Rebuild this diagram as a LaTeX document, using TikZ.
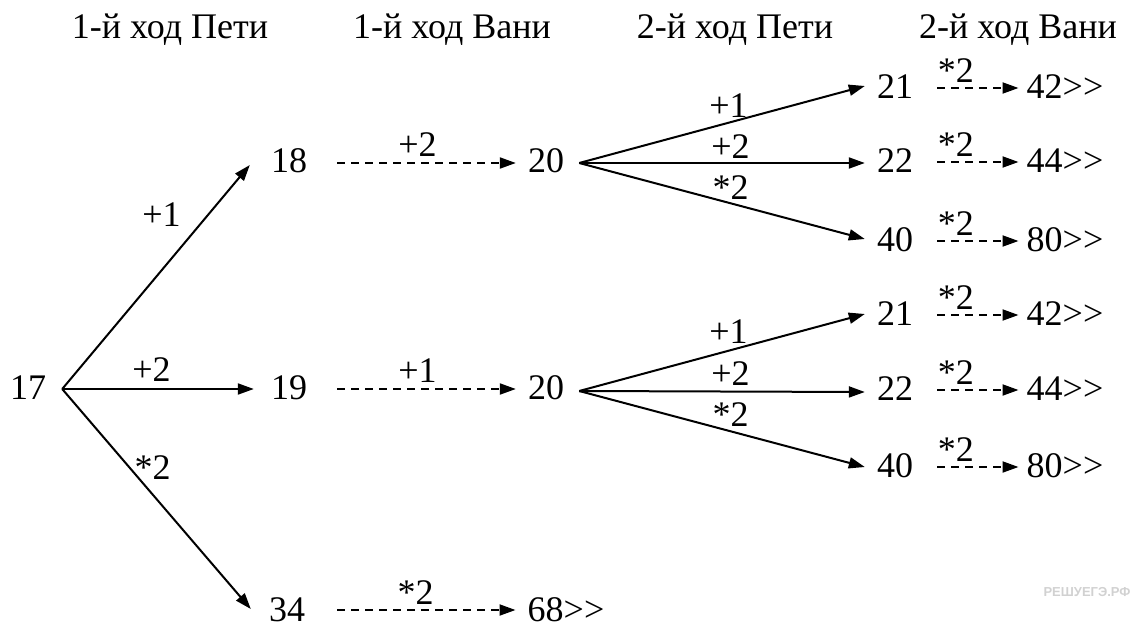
\documentclass[tikz,border=0pt]{standalone}
\usepackage{fontspec}
\setmainfont{Liberation Serif}
\newfontfamily\wmfont{Liberation Sans}
\usetikzlibrary{arrows.meta}
\newcommand\gtgt{>\kern0pt>}
\tikzset{
  num/.style={inner sep=0pt, font=\fontsize{36}{40}\selectfont},
  hdr/.style={inner sep=0pt, anchor=base, font=\fontsize{36}{40}\selectfont},
  lbl/.style={inner sep=0pt, font=\fontsize{36}{40}\selectfont},
  solidarrow/.style={line width=2pt, -{Triangle[length=16pt,width=11pt]}},
  dasharrow/.style={line width=2pt, dash pattern=on 8pt off 6pt, -{Triangle[length=16pt,width=11pt]}},
}
\begin{document}
\begin{tikzpicture}[x=1pt,y=-1pt]
\useasboundingbox (0,0) rectangle (1132,629);
% headers
\node[hdr] (h1) at (170,38) {1-й ход Пети};
\node[hdr] (h2) at (452,38) {1-й ход Вани};
\node[hdr] (h3) at (735,38) {2-й ход Пети};
\node[hdr] (h4) at (1018,38) {2-й ход Вани};
% numbers
\node[num] (n17) at (28,388) {17};
\node[num] (n18) at (289,161) {18};
\node[num] (n19) at (289,388) {19};
\node[num] (n34) at (287,610) {34};
\node[num] (n20a) at (546,161) {20};
\node[num] (n20b) at (546,388) {20};
\node[num] (n68) at (566,610) {68\gtgt};
\node[num] (n21a) at (895,87) {21};
\node[num] (n22a) at (895,161) {22};
\node[num] (n40a) at (895,240) {40};
\node[num] (n21b) at (895,314) {21};
\node[num] (n22b) at (895,389) {22};
\node[num] (n40b) at (895,466) {40};
\node[num] (n42a) at (1065,87) {42\gtgt};
\node[num] (n44a) at (1065,161) {44\gtgt};
\node[num] (n80a) at (1065,240) {80\gtgt};
\node[num] (n42b) at (1065,314) {42\gtgt};
\node[num] (n44b) at (1065,389) {44\gtgt};
\node[num] (n80b) at (1065,466) {80\gtgt};
% start coordinates
\coordinate (s17) at ([xshift=16pt,yshift=-1pt]n17.east);
\coordinate (s20a) at ([xshift=15pt,yshift=-2pt]n20a.east);
\coordinate (s20b) at ([xshift=15pt,yshift=-3pt]n20b.east);
% first move
\draw[solidarrow] (s17) -- ([xshift=-21pt,yshift=-4pt]n18.west)
  node[lbl, pos=0.78, xshift=-47pt] {+1};
\draw[solidarrow] (s17) -- ([xshift=-17pt,yshift=-1pt]n19.west)
  node[lbl, pos=0.466, yshift=19pt] {+2};
\draw[solidarrow] (s17) -- ([xshift=-18pt,yshift=1pt]n34.west)
  node[lbl, pos=0.357, xshift=23pt] {*2};
% Vanya first move
\draw[dasharrow] ([xshift=30pt,yshift=-2pt]n18.east) -- ([xshift=-12pt,yshift=-2pt]n20a.west)
  node[lbl, pos=0.45, yshift=18pt] {+2};
\draw[dasharrow] ([xshift=30pt,yshift=-1pt]n19.east) -- ([xshift=-12pt,yshift=-1pt]n20b.west)
  node[lbl, pos=0.45, yshift=18pt] {+1};
\draw[dasharrow] ([xshift=32pt,yshift=0pt]n34.east) -- ([xshift=-12pt,yshift=0pt]n68.west)
  node[lbl, pos=0.44, yshift=17pt] {*2};
% Petya second move (top)
\draw[solidarrow] (s20a) -- ([xshift=-12pt,yshift=1pt]n21a.west)
  node[lbl, pos=0.523, yshift=17pt] {+1};
\draw[solidarrow] (s20a) -- ([xshift=-12pt,yshift=-2pt]n22a.west)
  node[lbl, pos=0.53, yshift=16pt] {+2};
\draw[solidarrow] (s20a) -- ([xshift=-12pt,yshift=1pt]n40a.west)
  node[lbl, pos=0.53, yshift=16pt] {*2};
% Petya second move (bottom)
\draw[solidarrow] (s20b) -- ([xshift=-12pt,yshift=0pt]n21b.west)
  node[lbl, pos=0.523, yshift=19pt] {+1};
\draw[solidarrow] (s20b) -- ([xshift=-12pt,yshift=-3pt]n22b.west)
  node[lbl, pos=0.53, yshift=18pt] {+2};
\draw[solidarrow] (s20b) -- ([xshift=-12pt,yshift=-1pt]n40b.west)
  node[lbl, pos=0.53, yshift=17pt] {*2};
% Vanya second move
\foreach \a/\b in {n21a/n42a, n22a/n44a, n40a/n80a, n21b/n42b, n22b/n44b, n40b/n80b}{
  \draw[dasharrow] ([xshift=24pt,yshift=-1pt]\a.east) -- ([xshift=-8pt,yshift=-1pt]\b.west)
    node[lbl, pos=0.23, yshift=17pt] {*2};
}
% watermark
\node[inner sep=0pt, text=black!18, font=\wmfont\bfseries\fontsize{13}{14}\selectfont] (wm) at (1087,592) {РЕШУЕГЭ.РФ};
\end{tikzpicture}
\end{document}
